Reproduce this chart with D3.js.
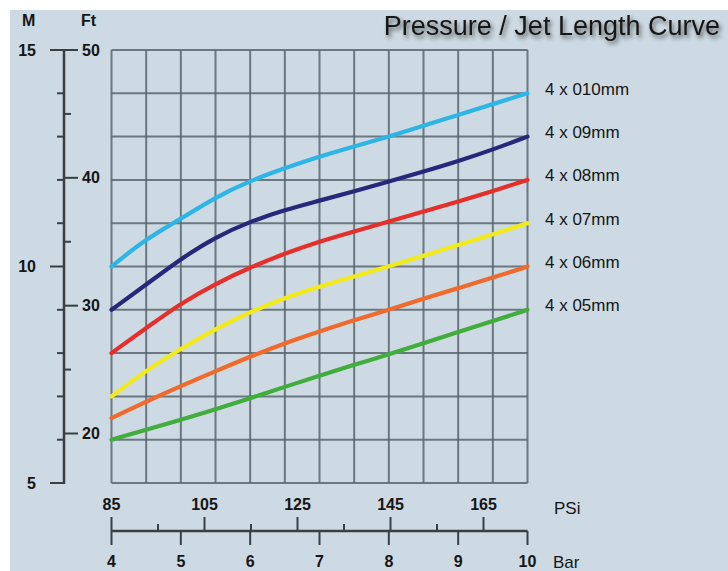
<!DOCTYPE html>
<html><head><meta charset="utf-8">
<script src="https://cdn.jsdelivr.net/npm/d3@7"></script>
<style>
html,body{margin:0;padding:0;background:#fff;}
svg{display:block;font-family:"Liberation Sans",Arial,sans-serif;}
</style></head>
<body>
<svg id="c" width="728" height="571"></svg>
<script>
// ---- data ----
const barPoints = [4, 4.5, 5, 5.5, 6, 6.5, 7, 7.5, 8, 8.5, 9, 9.5, 10];
const seriesNames = ["4 x 010mm", "4 x 09mm", "4 x 08mm", "4 x 07mm", "4 x 06mm", "4 x 05mm"];
const seriesColors = ["#2eb5e5", "#27287a", "#e52f2b", "#f3ea1c", "#ef6a2c", "#40ad3c"];
const s010 = [10.0, 10.64, 11.1, 11.6, 11.98, 12.27, 12.54, 12.77, 13.0, 13.25, 13.5, 13.75, 14.0];
const s09  = [9.0, 9.58, 10.18, 10.68, 11.04, 11.31, 11.52, 11.74, 11.96, 12.19, 12.43, 12.7, 13.0];
const s08  = [8.0, 8.58, 9.15, 9.6, 9.98, 10.3, 10.58, 10.81, 11.04, 11.27, 11.5, 11.74, 12.0];
const s07  = [7.0, 7.6, 8.1, 8.56, 8.95, 9.28, 9.54, 9.77, 10.0, 10.25, 10.5, 10.74, 11.0];
const s06  = [6.5, 6.88, 7.24, 7.58, 7.92, 8.23, 8.5, 8.76, 9.0, 9.26, 9.5, 9.74, 10.0];
const s05  = [6.0, 6.23, 6.46, 6.7, 6.96, 7.22, 7.48, 7.73, 7.97, 8.23, 8.49, 8.74, 9.0];
const seriesValues = [s010, s09, s08, s07, s06, s05];
const meterLabels = [5, 10, 15];
const meterTicks = [5, 6, 7, 8, 9, 10, 11, 12, 13, 14, 15];
const feetLabels = [20, 30, 40, 50];
const feetTicks = [20, 25, 30, 35, 40, 45, 50];
const psiLabels = [85, 105, 125, 145, 165];
const psiMinor = [95, 115, 135, 155];
const barLabels = [4, 5, 6, 7, 8, 9, 10];
const titleText = "Pressure / Jet Length Curve";

// ---- layout ----
const svg = d3.select("#c");
const L = 111.5, R = 527.5, T = 50, B = 483;
const x = d3.scaleLinear().domain([4, 10]).range([L, R]);
const xPsi = d3.scaleLinear().domain([85, 165]).range([L, 483.5]);
const y = d3.scaleLinear().domain([5, 15]).range([B, T]);
const yFt = d3.scaleLinear().domain([20, 50]).range([433.5, T]);

const defs = svg.append("defs");
const f = defs.append("filter").attr("id", "sh").attr("x", "-10%").attr("y", "-30%").attr("width", "120%").attr("height", "170%");
f.append("feDropShadow").attr("dx", 2).attr("dy", 3).attr("stdDeviation", 2).attr("flood-color", "#333").attr("flood-opacity", 0.75);

svg.append("rect").attr("x", 10).attr("y", 10).attr("width", 718).attr("height", 561).attr("fill", "#cddae3");

// title
svg.append("text").attr("x", 720).attr("y", 35).attr("text-anchor", "end")
  .attr("font-size", 27).attr("fill", "#151515").attr("filter", "url(#sh)").text(titleText);

// grid
const gridColor = "#5b666e";
const g = svg.append("g");
g.selectAll(".v").data(barPoints).join("line")
  .attr("x1", d => x(d)).attr("x2", d => x(d)).attr("y1", T).attr("y2", B)
  .attr("stroke", gridColor).attr("stroke-width", 2).attr("stroke-opacity", 0.85);
g.selectAll(".h").data(meterTicks).join("line")
  .attr("x1", L).attr("x2", R).attr("y1", d => y(d)).attr("y2", d => y(d))
  .attr("stroke", gridColor).attr("stroke-width", 2).attr("stroke-opacity", 0.85);

// curves
const line = d3.line().x((d, i) => x(barPoints[i])).y(d => y(d)).curve(d3.curveBasis);
seriesValues.forEach((vals, k) => {
  svg.append("path").attr("d", line(vals)).attr("fill", "none")
    .attr("stroke", seriesColors[k]).attr("stroke-width", 4.2).attr("stroke-linecap", "round");
  svg.append("text").attr("x", 545).attr("y", y(vals[vals.length - 1]) - 3)
    .attr("dominant-baseline", "middle").attr("font-size", 17).attr("fill", "#151515")
    .text(seriesNames[k]);
});

// left axis
const axC = "#3a3f44";
const AX = 64;
svg.append("line").attr("x1", AX).attr("x2", AX).attr("y1", T).attr("y2", B + 1)
  .attr("stroke", axC).attr("stroke-width", 2.5);
svg.selectAll(".mt").data(meterTicks).join("line")
  .attr("x1", d => meterLabels.includes(d) ? 50 : 57).attr("x2", AX)
  .attr("y1", d => y(d)).attr("y2", d => y(d)).attr("stroke", axC).attr("stroke-width", 2);
svg.selectAll(".ft").data(feetTicks).join("line")
  .attr("x1", AX).attr("x2", d => feetLabels.includes(d) ? 78 : 71)
  .attr("y1", d => yFt(d)).attr("y2", d => yFt(d)).attr("stroke", axC).attr("stroke-width", 2);
svg.selectAll(".ml").data(meterLabels).join("text")
  .attr("x", 36).attr("y", d => y(d)).attr("dy", "0.35em").attr("text-anchor", "end")
  .attr("font-size", 16).attr("font-weight", "bold").attr("fill", "#151515").text(d => d);
svg.selectAll(".fl").data(feetLabels).join("text")
  .attr("x", 82).attr("y", d => yFt(d)).attr("dy", "0.35em")
  .attr("font-size", 16).attr("font-weight", "bold").attr("fill", "#151515").text(d => d);
svg.append("text").attr("x", 22).attr("y", 26).attr("font-size", 16).attr("font-weight", "bold").attr("fill", "#151515").text("M");
svg.append("text").attr("x", 81).attr("y", 26).attr("font-size", 16).attr("font-weight", "bold").attr("fill", "#151515").text("Ft");

// bottom axes
const BY = 531;
svg.append("line").attr("x1", x(4)).attr("x2", x(10)).attr("y1", BY).attr("y2", BY)
  .attr("stroke", axC).attr("stroke-width", 2.5);
svg.selectAll(".pt").data(psiLabels).join("line")
  .attr("x1", d => xPsi(d)).attr("x2", d => xPsi(d)).attr("y1", 517).attr("y2", BY)
  .attr("stroke", axC).attr("stroke-width", 2);
svg.selectAll(".pm").data(psiMinor).join("line")
  .attr("x1", d => xPsi(d)).attr("x2", d => xPsi(d)).attr("y1", 524).attr("y2", BY)
  .attr("stroke", axC).attr("stroke-width", 2);
svg.selectAll(".bt").data(barLabels).join("line")
  .attr("x1", d => x(d)).attr("x2", d => x(d)).attr("y1", BY).attr("y2", 545)
  .attr("stroke", axC).attr("stroke-width", 2);
svg.selectAll(".pl").data(psiLabels).join("text")
  .attr("x", d => xPsi(d)).attr("y", 510).attr("text-anchor", "middle")
  .attr("font-size", 16).attr("font-weight", "bold").attr("fill", "#151515").text(d => d);
svg.selectAll(".bl").data(barLabels).join("text")
  .attr("x", d => x(d)).attr("y", 567).attr("text-anchor", "middle")
  .attr("font-size", 16).attr("font-weight", "bold").attr("fill", "#151515").text(d => d);
svg.append("text").attr("x", 554).attr("y", 514).attr("font-size", 17).attr("fill", "#151515").text("PSi");
svg.append("text").attr("x", 553).attr("y", 568).attr("font-size", 17).attr("fill", "#151515").text("Bar");
</script>
</body></html>
